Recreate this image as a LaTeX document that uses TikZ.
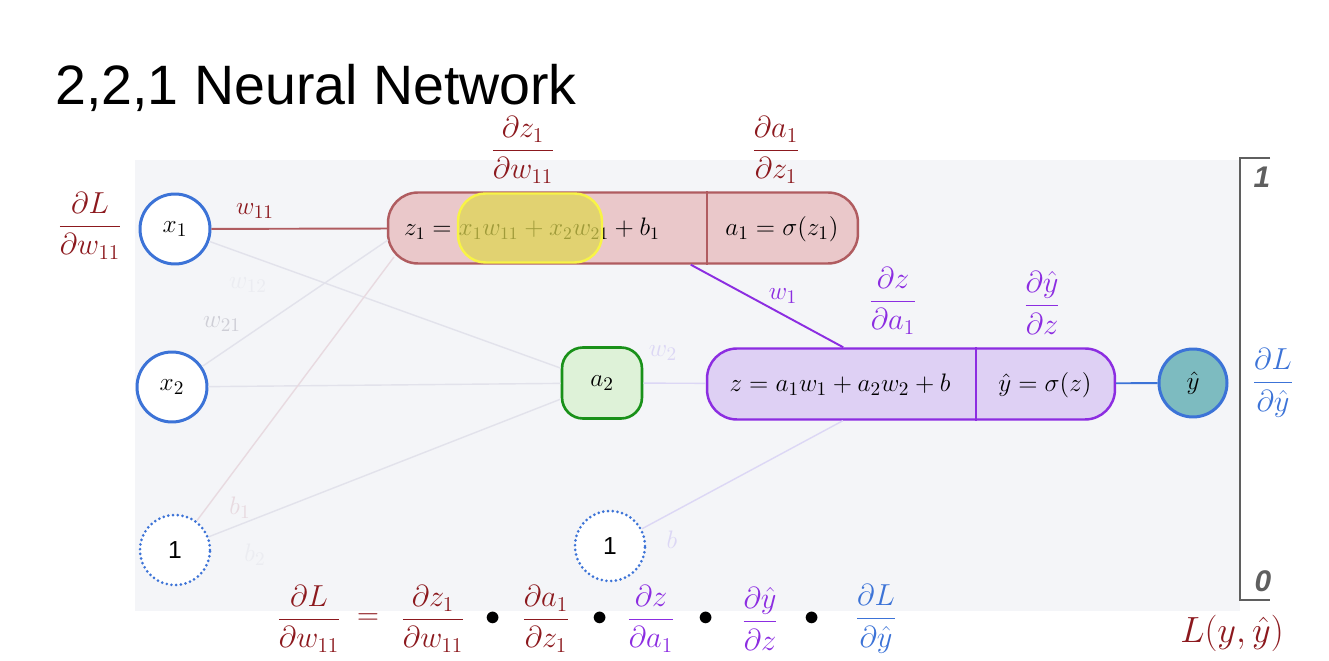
\documentclass[tikz,border=0pt]{standalone}
\usepackage{amsmath}
\usepackage{fontspec}
\usepackage{tikz}
\usetikzlibrary{positioning}
\newfontfamily\headfont{Liberation Sans}
\definecolor{nnred}{RGB}{140,25,30}
\definecolor{nnredline}{RGB}{176,92,96}
\definecolor{nnpink}{RGB}{234,200,202}
\definecolor{nnpurple}{RGB}{140,45,225}
\definecolor{nnlilac}{RGB}{222,208,244}
\definecolor{nnblue}{RGB}{60,115,215}
\definecolor{nnteal}{RGB}{125,187,192}
\definecolor{nngreen}{RGB}{25,145,25}
\definecolor{nnmint}{RGB}{222,242,216}
\definecolor{nnyellow}{RGB}{248,244,70}
\definecolor{nnolive}{RGB}{222,215,80}
\definecolor{nnpanel}{RGB}{244,245,248}
\definecolor{nnfaint}{RGB}{226,226,235}
\definecolor{nnfaintred}{RGB}{232,218,224}
\definecolor{nnfaintlilac}{RGB}{220,215,245}
\definecolor{nnfaintlbl}{RGB}{206,206,214}
\definecolor{nngray}{RGB}{95,95,95}
\tikzset{
  mathtxt/.style={font=\fontsize{15.5}{18}\selectfont, inner sep=0.5pt},
  inputnode/.style={circle, draw=nnblue, fill=white, minimum size=1.4cm,
    line width=1.7pt, mathtxt},
  biasnode/.style={circle, draw=nnblue, fill=white, minimum size=1.4cm,
    line width=1.7pt, dash pattern=on 0pt off 2.7pt, line cap=round,
    font=\headfont\fontsize{14}{16}\selectfont},
  redbox/.style={rectangle, draw=nnredline, fill=nnpink, rounded corners=0.6cm,
    line width=1.4pt, minimum width=9.4cm, minimum height=1.42cm},
  purplebox/.style={rectangle, draw=nnpurple, fill=nnlilac, rounded corners=0.6cm,
    line width=1.4pt, minimum width=8.16cm, minimum height=1.42cm},
  greenbox/.style={rectangle, draw=nngreen, fill=nnmint, rounded corners=0.42cm,
    line width=1.5pt, minimum width=1.6cm, minimum height=1.42cm, mathtxt},
  outnode/.style={circle, draw=nnblue, fill=nnteal, minimum size=1.36cm,
    line width=1.7pt, mathtxt},
  highlight/.style={rectangle, draw=nnyellow, fill=nnolive, fill opacity=0.72,
    rounded corners=0.55cm, line width=1.4pt, minimum width=2.88cm,
    minimum height=1.38cm},
  faint/.style={draw=nnfaint, line width=0.8pt},
  faintlbl/.style={mathtxt, text=nnfaintlbl},
  link/.style={line width=1.1pt},
  grad/.style={font=\fontsize{16.5}{19}\selectfont, inner sep=0.5pt}
}

\begin{document}
\begin{tikzpicture}[x=0.02cm, y=-0.02cm]
  \useasboundingbox (0,0) rectangle (1329,661);
  \fill[nnpanel] (135,160) rectangle (1240,611);
  \node[anchor=base west, inner sep=0pt,
    font=\headfont\fontsize{31.6}{36}\selectfont] (title) at (55,105) {2,2,1 Neural Network};

  \node[inputnode] (x1) at (175,229) {$x_1$};
  \node[inputnode] (x2) at (172,387) {$x_2$};
  \node[biasnode] (one1) at (175,550) {1};
  \node[biasnode] (one2) at (610,546) {1};
  \node[redbox] (z1box) at (623,228) {};
  \node[greenbox] (a2) at (602,383) {$a_2$};
  \node[purplebox] (zbox) at (911,384) {};
  \node[outnode] (yhat) at (1193,383) {$\hat{y}$};
  \coordinate (z1in) at (388,240);
  \coordinate (z1bin) at (394,257);
  \coordinate (div1) at (707,228);
  \coordinate (div2) at (976,384);

  \draw[faint] (x1) -- (a2);
  \draw[faint] (x2) -- (a2);
  \draw[faint] (one1) -- (a2);
  \draw[faint] (x2) -- (z1in);
  \draw[faint, draw=nnfaintred] (one1) -- (z1bin);
  \draw[faint, draw=nnfaintlilac] (a2) -- (zbox);
  \draw[faint, draw=nnfaintlilac] (one2) -- (zbox);
  \draw[link, nnredline] (x1) -- (z1box);
  \draw[link, nnpurple] (z1box) -- (zbox);
  \draw[link, nnblue] (zbox) -- (yhat);
  \draw[nnredline, line width=1.4pt] (div1 |- z1box.north) -- (div1 |- z1box.south);
  \draw[nnpurple, line width=1.4pt] (div2 |- zbox.north) -- (div2 |- zbox.south);

  \node[mathtxt, font=\fontsize{14.5}{17}\selectfont] (z1eq) at (532,229) {$z_1 = x_1w_{11} + x_2w_{21} + b_1$};
  \node[mathtxt] (a1eq) at (782,229) {$a_1 = \sigma(z_1)$};
  \node[highlight] (hl) at (530,228) {};
  \node[mathtxt] (zeq) at (840,385) {$z = a_1w_1 + a_2w_2 + b$};
  \node[mathtxt] (yeq) at (1045,385) {$\hat{y} = \sigma(z)$};

  \node[mathtxt, text=nnred] (w11) at (255,211) {$w_{11}$};
  \node[mathtxt, text=nnpurple] (w1) at (783,296) {$w_1$};
  \node[faintlbl] (w21) at (222,324) {$w_{21}$};
  \node[faintlbl, text=nnfaint!50!nnpanel] (w12) at (248,285) {$w_{12}$};
  \node[faintlbl, text=nnfaintred] (b1) at (240,508) {$b_1$};
  \node[faintlbl, text=nnfaint!50!nnpanel] (b2) at (255,555) {$b_2$};
  \node[faintlbl, text=nnfaintlilac] (w2) at (663,353) {$w_2$};
  \node[faintlbl, text=nnfaintlilac] (b) at (672,540) {$b$};

  \node[grad, text=nnred] (dLdw) at (90,226) {$\dfrac{\partial L}{\partial w_{11}}$};
  \node[grad, text=nnred] (dz1dw) at (523,150) {$\dfrac{\partial z_1}{\partial w_{11}}$};
  \node[grad, text=nnred] (da1dz1) at (776,150) {$\dfrac{\partial a_1}{\partial z_1}$};
  \node[grad, text=nnpurple] (dzda1) at (893,301) {$\dfrac{\partial z}{\partial a_1}$};
  \node[grad, text=nnpurple] (dydz) at (1042,303) {$\dfrac{\partial \hat{y}}{\partial z}$};
  \node[grad, text=nnblue] (dLdy) at (1273,383) {$\dfrac{\partial L}{\partial \hat{y}}$};

  \node[grad, text=nnred] (eqL) at (309,619) {$\dfrac{\partial L}{\partial w_{11}}$};
  \node[grad, text=nnred] (eqis) at (368,619) {$=$};
  \node[grad, text=nnred] (eqA) at (433,619) {$\dfrac{\partial z_1}{\partial w_{11}}$};
  \node[grad] (dot1) at (493,619) {$\bullet$};
  \node[grad, text=nnred] (eqB) at (546,619) {$\dfrac{\partial a_1}{\partial z_1}$};
  \node[grad] (dot2) at (600,619) {$\bullet$};
  \node[grad, text=nnpurple] (eqC) at (651,619) {$\dfrac{\partial z}{\partial a_1}$};
  \node[grad] (dot3) at (706,619) {$\bullet$};
  \node[grad, text=nnpurple] (eqD) at (760,619) {$\dfrac{\partial \hat{y}}{\partial z}$};
  \node[grad] (dot4) at (812,619) {$\bullet$};
  \node[grad, text=nnblue] (eqE) at (876,619) {$\dfrac{\partial L}{\partial \hat{y}}$};
  \node[text=nnred, inner sep=0.5pt, font=\fontsize{21}{24}\selectfont] (loss) at (1232,633) {$L(y,\hat{y})$};

  \draw[nngray, line width=1.5pt] (1270,158) -- (1240,158) -- (1240,600) -- (1270,600);
  \node[text=nngray, font=\headfont\bfseries\itshape\fontsize{17}{20}\selectfont] (top1) at (1262,177) {1};
  \node[text=nngray, font=\headfont\bfseries\itshape\fontsize{17}{20}\selectfont] (bot0) at (1263,581) {0};
\end{tikzpicture}
\end{document}
